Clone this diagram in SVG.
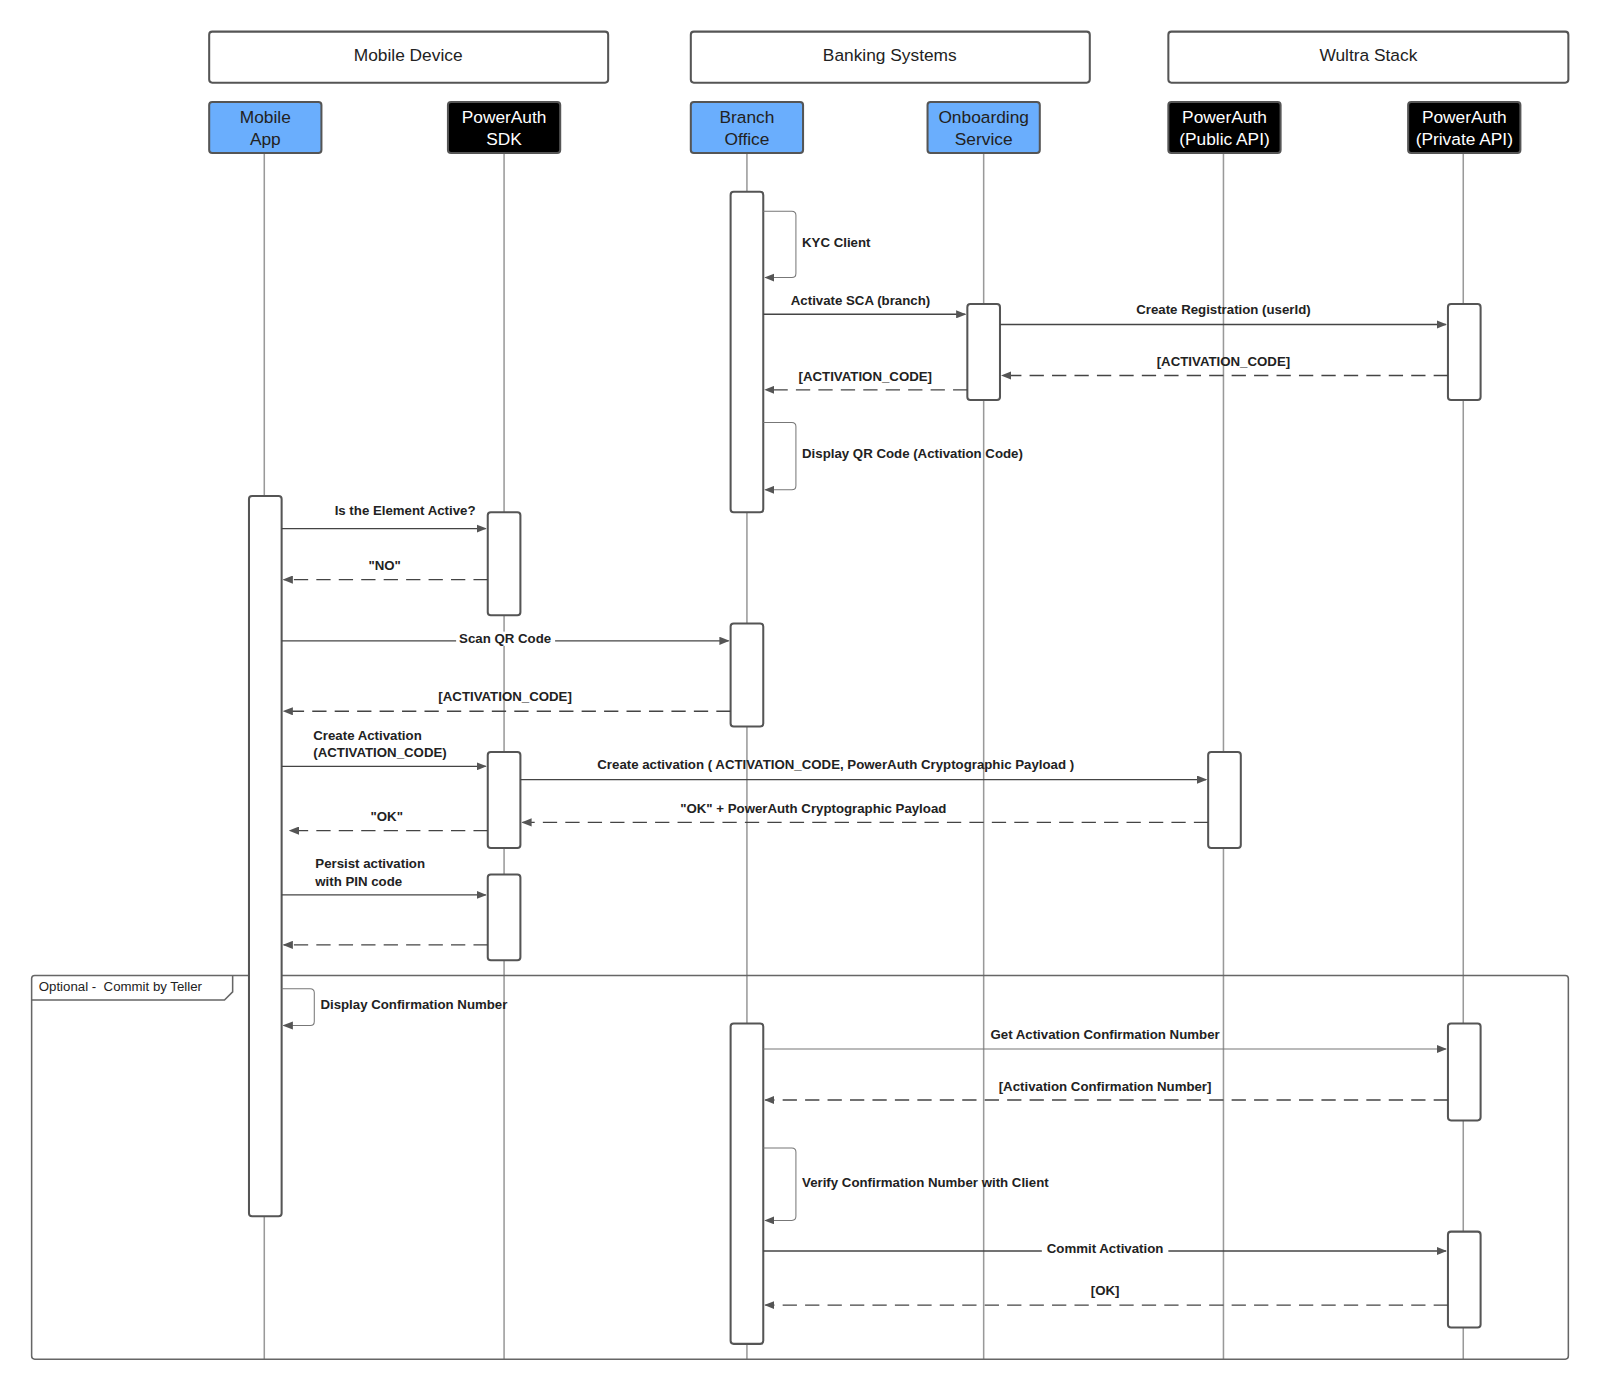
<svg xmlns="http://www.w3.org/2000/svg" width="1600" height="1392" viewBox="0 0 1600 1392">
<defs>
<marker id="ah" markerWidth="10" markerHeight="8" refX="9" refY="4" orient="auto" markerUnits="userSpaceOnUse"><path d="M0,0 L10,4 L0,8 Z" fill="#555"/></marker>
<style>
text{font-family:"Liberation Sans",Arial,sans-serif;}
.grp{fill:#fff;stroke:#555;stroke-width:2;}
.gt{font-size:17px;fill:#222;text-anchor:middle;}
.blue{fill:#6aaefd;stroke:#555;stroke-width:2;}
.blk{fill:#000;stroke:#555;stroke-width:2;}
.pt{font-size:17px;text-anchor:middle;}
.life{stroke:#999;stroke-width:1.5;}
.act{fill:#fff;stroke:#555;stroke-width:2;}
.m{stroke:#444;stroke-width:1.3;fill:none;marker-end:url(#ah);}
.d{stroke:#444;stroke-width:1.3;fill:none;stroke-dasharray:14,8;marker-end:url(#ah);}
.s{stroke:#777;stroke-width:1;fill:none;marker-end:url(#ah);}
.l{font-size:13px;font-weight:bold;fill:#222;}
.c{text-anchor:middle;}
</style>
</defs>
<rect width="1600" height="1392" fill="#fff"/>
<g transform="scale(1.0204)">
<g id="groups">
<rect class="grp" x="205" y="31" width="391" height="50" rx="3"/><text class="gt" x="400" y="60">Mobile Device</text>
<rect class="grp" x="677" y="31" width="391" height="50" rx="3"/><text class="gt" x="872" y="60">Banking Systems</text>
<rect class="grp" x="1145" y="31" width="392" height="50" rx="3"/><text class="gt" x="1341" y="60">Wultra Stack</text>
</g>
<g id="lifelines">
<line class="life" x1="259" y1="150" x2="259" y2="1332"/>
<line class="life" x1="494" y1="150" x2="494" y2="1332"/>
<line class="life" x1="732" y1="150" x2="732" y2="1332"/>
<line class="life" x1="964" y1="150" x2="964" y2="1332"/>
<line class="life" x1="1199" y1="150" x2="1199" y2="1332"/>
<line class="life" x1="1434" y1="150" x2="1434" y2="1332"/>
</g>
<g id="frame">
<rect x="31" y="956" width="1506" height="376" rx="3" fill="none" stroke="#666" stroke-width="1.5"/>
<path d="M31,980 H220 L228,972 V956" fill="none" stroke="#666" stroke-width="1.5"/>
<text x="38" y="971" font-size="13" fill="#222" style="white-space:pre" xml:space="preserve">Optional -  Commit by Teller</text>
</g>
<g id="p-app"><rect class="blue" x="205" y="100" width="110" height="50" rx="3"/><text class="pt" x="260" y="121" fill="#222">Mobile</text><text class="pt" x="260" y="142" fill="#222">App</text></g>
<g id="p-sdk"><rect class="blk" x="439" y="100" width="110" height="50" rx="3"/><text class="pt" x="494" y="121" fill="#fff">PowerAuth</text><text class="pt" x="494" y="142" fill="#fff">SDK</text></g>
<g id="p-branch"><rect class="blue" x="677" y="100" width="110" height="50" rx="3"/><text class="pt" x="732" y="121" fill="#222">Branch</text><text class="pt" x="732" y="142" fill="#222">Office</text></g>
<g id="p-onb"><rect class="blue" x="909" y="100" width="110" height="50" rx="3"/><text class="pt" x="964" y="121" fill="#222">Onboarding</text><text class="pt" x="964" y="142" fill="#222">Service</text></g>
<g id="p-pub"><rect class="blk" x="1145" y="100" width="110" height="50" rx="3"/><text class="pt" x="1200" y="121" fill="#fff">PowerAuth</text><text class="pt" x="1200" y="142" fill="#fff">(Public API)</text></g>
<g id="p-priv"><rect class="blk" x="1380" y="100" width="110" height="50" rx="3"/><text class="pt" x="1435" y="121" fill="#fff">PowerAuth</text><text class="pt" x="1435" y="142" fill="#fff">(Private API)</text></g>
<g id="activations">
<rect class="act" x="716" y="188" width="32" height="314" rx="3"/>
<rect class="act" x="716" y="611" width="32" height="101" rx="3"/>
<rect class="act" x="716" y="1003" width="32" height="314" rx="3"/>
<rect class="act" x="948" y="298" width="32" height="94" rx="3"/>
<rect class="act" x="1419" y="298" width="32" height="94" rx="3"/>
<rect class="act" x="1419" y="1003" width="32" height="95" rx="3"/>
<rect class="act" x="1419" y="1207" width="32" height="94" rx="3"/>
<rect class="act" x="244" y="486" width="32" height="706" rx="3"/>
<rect class="act" x="478" y="502" width="32" height="101" rx="3"/>
<rect class="act" x="478" y="737" width="32" height="94" rx="3"/>
<rect class="act" x="478" y="857" width="32" height="84" rx="3"/>
<rect class="act" x="1184" y="737" width="32" height="94" rx="3"/>
</g>
<g id="connectors">
<path class="s" d="M748,207 H776 Q780,207 780,211 V268 Q780,272 776,272 H750"/>
<text class="l" x="786" y="242">KYC Client</text>
<path class="m" d="M748,308 H946"/><text class="l" x="775" y="299">Activate SCA (branch)</text>
<path class="m" d="M980,318 H1417"/><text class="l c" x="1199" y="308">Create Registration (userId)</text>
<path class="d" d="M1419,368 H982"/><text class="l c" x="1199" y="359">[ACTIVATION_CODE]</text>
<path class="d" d="M948,382 H750"/><text class="l c" x="848" y="373">[ACTIVATION_CODE]</text>
<path class="s" d="M748,414 H776 Q780,414 780,418 V476 Q780,480 776,480 H750"/>
<text class="l" x="786" y="449">Display QR Code (Activation Code)</text>
<path class="m" d="M276,518 H476"/><text class="l c" x="397" y="505">Is the Element Active?</text>
<path class="d" d="M478,568 H278"/><text class="l c" x="377" y="559">"NO"</text>
<path class="m" d="M276,628 H714"/><rect x="447" y="619" width="97" height="14" fill="#fff"/><text class="l c" x="495" y="630">Scan QR Code</text>
<path class="d" d="M716,697 H278"/><text class="l c" x="495" y="687">[ACTIVATION_CODE]</text>
<path class="m" d="M276,751 H476"/><text class="l" x="307" y="725">Create Activation</text><text class="l" x="307" y="742">(ACTIVATION_CODE)</text>
<path class="m" d="M510,764 H1182"/><text class="l c" x="819" y="754">Create activation ( ACTIVATION_CODE, PowerAuth Cryptographic Payload )</text>
<path class="d" d="M1184,806 H512"/><text class="l c" x="797" y="797">"OK" + PowerAuth Cryptographic Payload</text>
<path class="d" d="M478,814 H284"/><text class="l c" x="379" y="805">"OK"</text>
<path class="m" d="M276,877 H476"/><text class="l" x="309" y="851">Persist activation</text><text class="l" x="309" y="868">with PIN code</text>
<path class="d" d="M478,926 H278"/>
<path class="s" d="M276,969 H304 Q308,969 308,973 V1001 Q308,1005 304,1005 H278"/>
<text class="l" x="314" y="989">Display Confirmation Number</text>
<path class="s" d="M748,1028 H1417"/><text class="l c" x="1083" y="1018">Get Activation Confirmation Number</text>
<path class="d" d="M1419,1078 H750"/><text class="l c" x="1083" y="1069">[Activation Confirmation Number]</text>
<path class="s" d="M748,1125 H776 Q780,1125 780,1129 V1192 Q780,1196 776,1196 H750"/>
<text class="l" x="786" y="1163">Verify Confirmation Number with Client</text>
<path class="m" d="M748,1226 H1417"/><rect x="1021" y="1217" width="124" height="14" fill="#fff"/><text class="l c" x="1083" y="1228">Commit Activation</text>
<path class="d" d="M1419,1279 H750"/><text class="l c" x="1083" y="1269">[OK]</text>
</g>
</g>
</svg>
